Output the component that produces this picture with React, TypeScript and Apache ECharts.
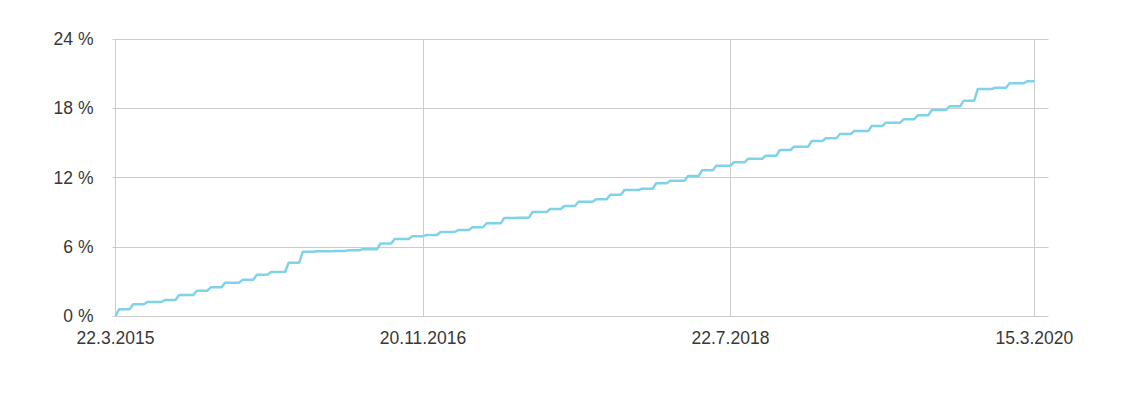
import React, { useEffect, useRef } from "react";
import * as echarts from "echarts";

// ---- data ----
const FIRST_WEEK = "2015-03-22"; // first weekly observation (Sunday)
const LAST_WEEK = "2020-03-15"; // last weekly observation
const AXIS_END_WEEK = "2020-04-12"; // axis runs a few weeks past the data
const FIRST_STEP_MONTH = "2015-03"; // month of the first monthly step
const tickLabels = ["22.3.2015", "20.11.2016", "22.7.2018", "15.3.2020"];
const yTicks = [0, 6, 12, 18, 24];
// cumulative return (%) after each monthly step, Mar 2015 .. Feb 2020
const monthlyLevels = [
  0.58, 1.01, 1.21, 1.39, 1.82, 2.19, 2.49, 2.89, 3.15, 3.58, 3.81, 4.62,
  5.57, 5.6, 5.64, 5.7, 5.79, 6.28, 6.67, 6.92, 7.02, 7.28, 7.45, 7.69,
  8.03, 8.49, 8.52, 9.01, 9.27, 9.53, 9.9, 10.11, 10.51, 10.92, 11.03, 11.5,
  11.72, 12.13, 12.63, 13.02, 13.32, 13.63, 13.89, 14.38, 14.67, 15.16, 15.4, 15.77,
  16.03, 16.46, 16.75, 17.04, 17.39, 17.85, 18.17, 18.66, 19.67, 19.78, 20.16, 20.34,
];

// ---- derived tables ----
const DAY = 86400000;
const toMs = (s: string) => {
  const [y, m, d] = s.split("-").map(Number);
  return Date.UTC(y, m - 1, d);
};
const fmt = (t: number) => {
  const d = new Date(t);
  return `${d.getUTCDate()}.${d.getUTCMonth() + 1}.${d.getUTCFullYear()}`;
};

const weekTimes: number[] = [];
for (let t = toMs(FIRST_WEEK); t <= toMs(AXIS_END_WEEK); t += 7 * DAY) weekTimes.push(t);
const categories = weekTimes.map(fmt);

// each monthly value takes effect on the first Sunday on/after the 24th
const [fy, fm] = FIRST_STEP_MONTH.split("-").map(Number);
const stepTimes = monthlyLevels.map((_, i) => {
  const mi = fm - 1 + i;
  const base = Date.UTC(fy + Math.floor(mi / 12), mi % 12, 24);
  const dow = new Date(base).getUTCDay();
  return base + ((7 - dow) % 7) * DAY;
});

const lastData = toMs(LAST_WEEK);
const seriesValues = weekTimes.map((t) => {
  if (t > lastData) return null;
  let v = 0;
  for (let k = 0; k < stepTimes.length; k++) if (stepTimes[k] <= t) v = monthlyLevels[k];
  return v;
});

const GRID = "#cccccc";
const FONT = "'Liberation Sans', Arial, Helvetica, sans-serif";

export default function App() {
  const ref = useRef<HTMLDivElement>(null);
  useEffect(() => {
    document.body.style.margin = "0";
    if (!ref.current) return;
    const chart = echarts.init(ref.current, null, { renderer: "svg" });
    const showTick = (_i: number, v: string) => tickLabels.includes(v);
    chart.setOption({
      animation: false,
      backgroundColor: "#ffffff",
      grid: {
        left: 115.5,
        right: 87.5,
        top: 39,
        bottom: 97,
        containLabel: false,
        outerBoundsMode: "none",
      },
      xAxis: {
        type: "category",
        data: categories,
        boundaryGap: false,
        axisLine: { show: false },
        axisTick: { show: false },
        axisLabel: {
          interval: showTick,
          color: "#383838",
          fontSize: 17.5,
          fontFamily: FONT,
          margin: 13,
          hideOverlap: false,
        },
        splitLine: {
          show: true,
          interval: showTick,
          lineStyle: { color: GRID, width: 1 },
        },
      },
      yAxis: {
        type: "value",
        min: yTicks[0],
        max: yTicks[yTicks.length - 1],
        interval: yTicks[1] - yTicks[0],
        axisLine: { show: false },
        axisTick: { show: true, length: 3, lineStyle: { color: GRID, width: 1 } },
        axisLabel: {
          formatter: "{value} %",
          color: "#383838",
          fontSize: 17.5,
          fontFamily: FONT,
          margin: 22,
        },
        splitLine: { show: true, lineStyle: { color: GRID, width: 1 } },
      },
      series: [
        {
          type: "line",
          data: seriesValues,
          showSymbol: false,
          symbol: "none",
          lineStyle: { color: "#7fd3e8", width: 2.5 },
          itemStyle: { color: "#7fd3e8" },
          z: 3,
        },
      ],
    });
    return () => chart.dispose();
  }, []);
  return <div ref={ref} style={{ width: 1136, height: 413 }} />;
}
